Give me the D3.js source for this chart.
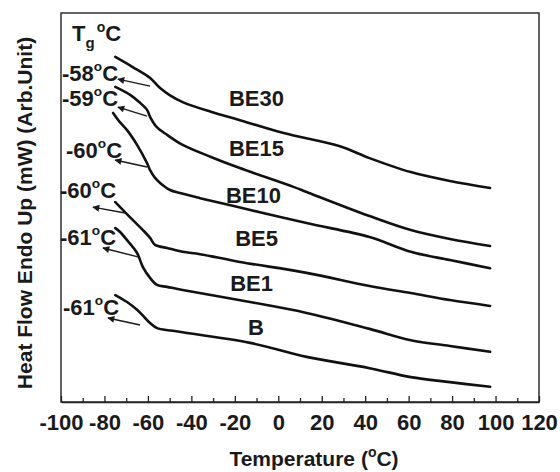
<!DOCTYPE html>
<html>
<head>
<meta charset="utf-8">
<script src="https://cdn.jsdelivr.net/npm/d3@7/dist/d3.min.js"></script>
<style>
  html, body { margin: 0; padding: 0; background: #fff; }
  svg { display: block; }
  text { font-family: "Liberation Sans", Arial, Helvetica, sans-serif; font-weight: bold; fill: #1a1a1a; }
</style>
</head>
<body>
<svg id="chart" width="560" height="472"></svg>
<script>
// DSC heating scans, heat flow in arbitrary units (offset per sample)
const seriesNames = ["BE30", "BE15", "BE10", "BE5", "BE1", "B"];

const tempBE30 = [-75, -67, -59, -54.4, -50, -44, -31, -18, 2, 28, 42, 61, 79, 97.5];
const flowBE30 = [8.87, 8.61, 8.33, 8.07, 7.89, 7.71, 7.46, 7.25, 6.92, 6.58, 6.27, 5.91, 5.68, 5.50];

const tempBE15 = [-75, -68, -64, -60.4, -59, -56, -51, -44, -31, -18, 7, 13, 42, 61, 79, 97.5];
const flowBE15 = [8.10, 7.89, 7.71, 7.51, 7.33, 7.07, 6.86, 6.61, 6.30, 6.02, 5.53, 5.40, 4.78, 4.42, 4.19, 4.01];

const tempBE10 = [-76, -73, -69.6, -65, -60.4, -59, -56.7, -54.4, -49.8, -45.2, -36, -20, 13, 42, 61, 79, 97.5];
const flowBE10 = [7.43, 7.20, 6.99, 6.61, 6.14, 5.96, 5.76, 5.63, 5.45, 5.37, 5.24, 5.03, 4.60, 4.24, 3.86, 3.65, 3.44];

const tempBE5 = [-75, -67, -62.3, -59, -56.7, -51.2, -44, -36, -17.6, 13, 42, 61, 79, 97.5];
const flowBE5 = [5.14, 4.68, 4.42, 4.22, 4.04, 3.96, 3.86, 3.80, 3.60, 3.32, 2.98, 2.80, 2.62, 2.47];

const tempBE1 = [-75, -72.8, -69.6, -65, -62.3, -59, -55.8, -51.2, -44, -13, 13, 42, 61, 79, 97.5];
const flowBE1 = [4.47, 4.37, 4.16, 3.83, 3.47, 3.19, 3.01, 2.96, 2.88, 2.57, 2.29, 1.88, 1.59, 1.44, 1.29];

const tempB = [-75, -69.6, -65, -61.3, -59, -55.8, -48.5, -13, 13, 42, 61, 79, 97.5];
const flowB = [2.75, 2.57, 2.37, 2.16, 2.03, 1.90, 1.83, 1.52, 1.16, 0.87, 0.64, 0.51, 0.39];

// Glass transition temperatures for each sample (°C)
const tgValues = [-58, -59, -60, -60, -61, -61];

// Tg arrows: tail (right) and tip (left) in temperature / heat-flow units
const arrowTailT = [-59, -60.4, -60.4, -70.5, -64.6, -63.6];
const arrowTailF = [8.12, 7.35, 6.04, 4.86, 3.73, 1.98];
const arrowTipT  = [-73.8, -73.8, -75.1, -85.3, -80.7, -78.4];
const arrowTipF  = [8.30, 7.58, 6.22, 5.01, 3.96, 2.16];

const xTicks = [-100, -80, -60, -40, -20, 0, 20, 40, 60, 80, 100, 120];
const xMinorTicks = d3.range(-90, 120, 20);

const seriesTemps = [tempBE30, tempBE15, tempBE10, tempBE5, tempBE1, tempB];
const seriesFlows = [flowBE30, flowBE15, flowBE10, flowBE5, flowBE1, flowB];

// ---- layout ----
const plot = { left: 61, top: 13, right: 539, bottom: 402 };
const svg = d3.select("#chart");

const x = d3.scaleLinear().domain([-100, 120]).range([plot.left, plot.right]);
const y = d3.scaleLinear().domain([0, 10]).range([plot.bottom, plot.top]);

// arrowhead marker
svg.append("defs").append("marker")
  .attr("id", "head")
  .attr("viewBox", "0 0 10 10")
  .attr("refX", 9).attr("refY", 5)
  .attr("markerWidth", 9).attr("markerHeight", 7)
  .attr("markerUnits", "userSpaceOnUse")
  .attr("orient", "auto")
  .append("path")
  .attr("d", "M0,0 L10,5 L0,10 Z")
  .attr("fill", "#1a1a1a");

// frame
svg.append("rect")
  .attr("x", plot.left).attr("y", plot.top)
  .attr("width", plot.right - plot.left).attr("height", plot.bottom - plot.top)
  .attr("fill", "none").attr("stroke", "#222").attr("stroke-width", 1.4);

// bottom axis: major ticks with labels, minor ticks between, all pointing inward
const xAxis = d3.axisBottom(x).tickValues(xTicks).tickSizeInner(-6).tickSizeOuter(0)
  .tickFormat(d3.format("d")).tickPadding(12);
const gx = svg.append("g").attr("transform", `translate(0,${plot.bottom})`).call(xAxis);
gx.select(".domain").attr("stroke", "#222").attr("stroke-width", 1.4);
gx.selectAll(".tick line").attr("stroke", "#222").attr("stroke-width", 1.3);
gx.selectAll(".tick text")
  .style("font-size", "22px").style("font-family", '"Liberation Sans", Arial, sans-serif')
  .style("font-weight", "bold").attr("fill", "#1a1a1a")
  .text(d => d < 0 ? "-" + Math.abs(d) : d);

const gxm = svg.append("g").attr("transform", `translate(0,${plot.bottom})`)
  .call(d3.axisBottom(x).tickValues(xMinorTicks).tickSizeInner(-4).tickSizeOuter(0).tickFormat(""));
gxm.select(".domain").remove();
gxm.selectAll(".tick line").attr("stroke", "#222").attr("stroke-width", 1.3);

// curves
const line = d3.line()
  .x(d => x(d[0])).y(d => y(d[1]))
  .curve(d3.curveCatmullRom.alpha(0.5));

seriesNames.forEach((name, i) => {
  const pts = seriesTemps[i].map((t, j) => [t, seriesFlows[i][j]]);
  svg.append("path")
    .datum(pts)
    .attr("d", line)
    .attr("fill", "none")
    .attr("stroke", "#111")
    .attr("stroke-width", 2.6)
    .attr("stroke-linejoin", "round")
    .attr("stroke-linecap", "round");
});

// Tg arrows
tgValues.forEach((tg, i) => {
  svg.append("line")
    .attr("x1", x(arrowTailT[i])).attr("y1", y(arrowTailF[i]))
    .attr("x2", x(arrowTipT[i])).attr("y2", y(arrowTipF[i]))
    .attr("stroke", "#1a1a1a").attr("stroke-width", 1.4)
    .attr("marker-end", "url(#head)");
});

// sample labels (anchored at their right edge)
const nameLabelPos = [[284, 106], [284, 156], [281, 203], [278, 246], [273, 291], [264, 335]];
seriesNames.forEach((name, i) => {
  svg.append("text")
    .attr("x", nameLabelPos[i][0]).attr("y", nameLabelPos[i][1])
    .attr("text-anchor", "end")
    .style("font-size", "22px")
    .text(name);
});

// Tg labels
function degreeLabel(sel, prefix, size) {
  sel.append("tspan").text(prefix);
  sel.append("tspan").attr("dy", -size * 0.45).style("font-size", (size * 0.62) + "px").text("o");
  sel.append("tspan").attr("dy", size * 0.45).text("C");
}
const tgLabelPos = [[62, 81], [62, 106], [66, 158], [60, 198], [60, 245], [63, 315]];
tgValues.forEach((tg, i) => {
  const t = svg.append("text")
    .attr("x", tgLabelPos[i][0]).attr("y", tgLabelPos[i][1])
    .style("font-size", "22px");
  degreeLabel(t, "-" + Math.abs(tg), 22);
});

// header "Tg °C"
const hdr = svg.append("text").attr("x", 72).attr("y", 41).style("font-size", "22px");
hdr.append("tspan").text("T");
hdr.append("tspan").attr("dy", 7).style("font-size", "15px").text("g");
hdr.append("tspan").attr("dy", -16).attr("dx", 2).style("font-size", "14px").text("o");
hdr.append("tspan").attr("dy", 9).text("C");

// axis titles
const xt = svg.append("text")
  .attr("x", 314).attr("y", 466)
  .attr("text-anchor", "middle").style("font-size", "21px");
xt.append("tspan").text("Temperature (");
xt.append("tspan").attr("dy", -9).style("font-size", "14px").text("o");
xt.append("tspan").attr("dy", 9).text("C)");

svg.append("text")
  .attr("transform", "translate(32,213) rotate(-90)")
  .attr("text-anchor", "middle")
  .style("font-size", "21px")
  .text("Heat Flow Endo Up (mW) (Arb.Unit)");
</script>
</body>
</html>
